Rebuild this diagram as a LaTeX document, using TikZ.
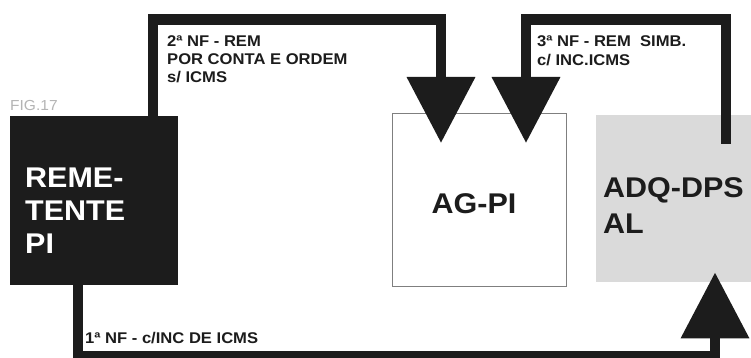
\documentclass[tikz,border=0pt]{standalone}
\usepackage{fontspec}
\setmainfont{Liberation Sans}[FakeStretch=1.07]
\usetikzlibrary{arrows.meta}
\definecolor{ink}{HTML}{1C1C1C}
\definecolor{pale}{HTML}{DADADA}
\definecolor{frame}{HTML}{7F7F7F}
\definecolor{figgray}{HTML}{B4B4B4}
\begin{document}
\begin{tikzpicture}[x=1pt,y=-1pt,
  blockbox/.style={inner sep=0pt, anchor=north west},
  flow/.style={draw=ink, line width=10.5pt, line join=miter,
    -{Triangle[width=66pt,length=66pt]}},
  bigtxt/.style={inner sep=0pt, anchor=base west, align=left,
    font=\fontsize{28.5}{33}\selectfont\bfseries},
  lbltxt/.style={inner sep=0pt, anchor=base west, align=left, text=ink,
    font=\fontsize{15.5}{18}\selectfont\bfseries}
]
\clip (0,0) rectangle (751,358);
\fill[white] (0,0) rectangle (751,358);

% boxes
\node[blockbox, fill=ink, minimum width=168pt, minimum height=169pt] (rem) at (10,116) {};
\node[blockbox, draw=frame, line width=0.8pt, minimum width=174pt, minimum height=173pt] (ag) at (392,113) {};
\node[blockbox, fill=pale, minimum width=160pt, minimum height=167pt] (adq) at (596,115) {};

% connectors
\draw[flow] ([xshift=143pt]rem.north west) -- ++(0,-96.5)
  -| ([xshift=49pt,yshift=-30pt]ag.north west);
\draw[flow] ([xshift=130pt,yshift=-29pt]adq.north west) -- ++(0,-124.5)
  -| ([xshift=134pt,yshift=-30pt]ag.north west);
\draw[flow] ([xshift=68pt]rem.south west) -- ++(0,71)
  -| ([xshift=119pt,yshift=10pt]adq.south west);

% texts (base anchor = baseline of the last line)
\node[bigtxt, text=white] (remtxt) at (25,253) {REME-\\TENTE\\PI};
\node[bigtxt, text=ink, font=\fontsize{28.5}{36}\selectfont\bfseries] (adqtxt) at (603,233) {ADQ-DPS\\AL};
\node[bigtxt, text=ink, anchor=base] (agtxt) at (474,213) {AG-PI};
\node[lbltxt] (lbl2) at (167,83) {2ª NF - REM\\POR CONTA E ORDEM\\s/ ICMS};
\node[lbltxt, font=\fontsize{15.5}{19}\selectfont\bfseries] (lbl3) at (537,66) {3ª NF - REM\ \ SIMB.\\c/ INC.ICMS};
\node[lbltxt] (lbl1) at (85,343) {1ª NF - c/INC DE ICMS};
\node[inner sep=0pt, anchor=base west, text=figgray, font=\fontsize{14.5}{17}\selectfont] (fig) at (10,111) {FIG.17};
\end{tikzpicture}
\end{document}
